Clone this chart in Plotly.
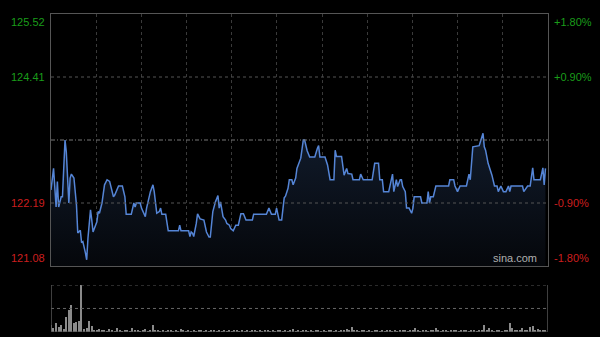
import plotly.graph_objects as go

# ---- data ----
minutes = [0, 2, 4, 5, 6, 8, 9, 11, 12, 14, 15, 16, 18, 19, 20, 21, 23, 24, 25, 27, 28, 29, 31, 32, 33,
           36, 37, 38, 40, 42, 44, 46, 49, 50, 53, 56, 58, 59, 63, 65, 66, 67, 70, 71, 74, 75, 77,
           78, 80, 81, 83, 85, 86, 87, 90, 92, 100, 101, 102, 108, 109, 110, 111, 112, 114, 115, 117,
           120, 122, 124, 125, 127, 129, 131, 132, 133, 135, 137, 138, 140, 141, 143, 145, 147, 149,
           151, 153, 156,
           158, 159, 169, 171, 173, 176, 177, 179, 181, 183, 184, 186, 187, 189, 190, 192, 193, 196,
           198, 199, 201, 203, 207, 209, 210, 211, 215, 217, 219, 222, 223, 224, 228, 230, 232, 233, 235,
           236, 237, 242, 243, 245, 252, 254, 257, 258, 260, 261, 265, 266, 268, 269, 271, 272, 274,
           275, 276, 278, 279, 281, 283, 284, 285, 290, 291, 295, 296, 297, 298, 300, 302, 312, 313,
           316, 317, 319, 321, 326, 328, 329, 331, 336, 337, 339, 340, 341, 343, 346, 348, 350, 351,
           353, 355, 357, 359, 360, 361, 370, 371, 374, 376, 378, 379, 384, 386, 387, 388]
prices = [122.42, 122.80, 122.12, 122.57, 122.12, 122.30, 122.30, 123.30, 123.09, 122.19, 122.63, 122.70,
          122.63, 122.33, 122.15, 121.66, 121.71, 121.49, 121.51, 121.31, 121.19, 121.57, 122.07, 121.89,
          121.68, 121.86, 122.04, 122.01, 122.19, 122.51, 122.60, 122.57, 122.30, 122.33, 122.49, 122.49,
          122.30, 121.99, 121.99, 122.19, 122.12, 122.19, 122.19, 122.10, 121.95, 122.10, 122.30,
          122.39, 122.51, 122.39, 122.01, 122.04, 122.10, 121.99, 121.99, 121.70, 121.70, 121.80, 121.70,
          121.70, 121.60, 121.68, 121.66, 121.60, 121.83, 122.00, 121.91, 121.89, 121.68, 121.59, 121.59,
          122.04, 122.21, 122.32, 122.10, 122.21, 121.95, 121.89, 121.83, 121.80, 121.74, 121.70, 121.80,
          121.80, 122.00, 122.00, 121.89, 121.89,
          121.89, 121.99, 121.99, 122.10, 121.99, 121.99, 122.10, 121.89, 121.89, 122.28, 122.31, 122.45,
          122.60, 122.60, 122.51, 122.63, 122.80, 122.98, 123.30, 123.30, 123.11, 123.00, 123.00, 123.15,
          123.20, 123.00, 123.00, 122.86, 122.60, 122.60, 123.12, 123.01, 123.01, 122.68, 122.80, 122.71,
          122.71,
          122.70, 122.60, 122.60, 122.70, 122.60, 122.60, 122.89, 122.89, 122.60, 122.60, 122.39, 122.39,
          122.48, 122.70, 122.39, 122.60, 122.48, 122.60, 122.60, 122.48, 122.39, 122.10, 122.10, 122.01,
          122.10, 122.30, 122.30, 122.19, 122.19, 122.39, 122.19, 122.30, 122.30, 122.49, 122.49, 122.60,
          122.60, 122.49, 122.39, 122.49, 122.49, 122.70, 122.60, 123.18, 123.20, 123.28, 123.42, 123.18,
          123.12, 122.89, 122.68, 122.49, 122.49, 122.39, 122.49, 122.39, 122.39, 122.49, 122.39, 122.49,
          122.49, 122.39, 122.49, 122.49, 122.81, 122.60, 122.60, 122.81, 122.51, 122.80]

vol_minutes = list(range(0, 390, 2))
volumes = [16, 8, 19, 11, 15, 6, 32, 46, 57, 19,
           21, 23, 100, 6, 9, 23, 12, 5, 4, 6,
           4, 5, 3, 6, 4, 3, 9, 4, 3, 5,
           4, 3, 9, 4, 5, 3, 4, 6, 3, 4,
           14, 5, 4, 3, 4, 3, 5, 4, 3, 4,
           3, 6, 4, 3, 5, 3, 4, 3, 4, 5,
           3, 4, 3, 5, 4, 3, 4, 3, 5, 3,
           4, 3, 4, 5, 3, 4, 3, 4, 3, 5,
           4, 3, 4, 3, 5, 4, 3, 4, 3, 4,
           5, 3, 4, 3, 4, 6, 3, 4, 3, 5,
           4, 3, 4, 3, 5, 4, 3, 4, 3, 4,
           5, 3, 4, 3, 4, 5, 6, 4, 11, 5,
           4, 3, 4, 5, 3, 4, 3, 4, 5, 3,
           4, 3, 4, 5, 3, 4, 3, 4, 5, 4,
           3, 4, 5, 9, 4, 3, 4, 5, 3, 4,
           5, 9, 4, 3, 4, 5, 3, 4, 5, 4,
           3, 4, 5, 4, 3, 5, 4, 3, 4, 5,
           16, 4, 9, 4, 3, 5, 4, 3, 4, 5,
           19, 9, 4, 5, 4, 9, 5, 4, 11, 13,
           5, 7, 4, 5, 4]

prev_close = 123.30
y_min, y_max = 121.08, 125.52
left_labels = ["125.52", "124.41", "122.19", "121.08"]
left_values = [125.52, 124.41, 122.19, 121.08]
right_labels = ["+1.80%", "+0.90%", "-0.90%", "-1.80%"]
x_end = 390
vgrid_count = 11

GREEN = "#1a9c1a"
RED = "#cc1f1f"

fig = go.Figure()
fig.add_trace(go.Scatter(
    x=minutes, y=prices, mode="lines",
    line=dict(color="#5585d6", width=1.5),
    fill="tozeroy",
    fillgradient=dict(type="vertical", start=y_min, stop=max(prices),
                      colorscale=[[0, "#05070b"], [1, "#111b2b"]]),
    xaxis="x", yaxis="y", hoverinfo="skip"))
fig.add_trace(go.Bar(
    x=vol_minutes, y=volumes, width=1.0,
    marker=dict(color="#8a8a8a", line=dict(width=0)),
    xaxis="x2", yaxis="y2", hoverinfo="skip"))

main_dom = [0.2075, 1.0]
vol_dom = [0.0, 0.148]

fig.update_layout(
    width=600, height=337,
    margin=dict(l=51, r=52, t=14, b=5),
    paper_bgcolor="black", plot_bgcolor="black",
    showlegend=False,
    font=dict(family="Liberation Sans, Arial", size=11),
    xaxis=dict(domain=[0, 1], range=[0, x_end], showticklabels=False,
               tickvals=[x_end * k / vgrid_count for k in range(1, vgrid_count)],
               ticks="", showgrid=True, gridcolor="#3a3a3a", griddash="dot", gridwidth=1,
               zeroline=False, showline=True, linecolor="#555", mirror=True, anchor="y"),
    yaxis=dict(domain=main_dom, range=[y_min, y_max], showticklabels=False,
               showgrid=False, zeroline=False, showline=True, linecolor="#555",
               mirror=True, anchor="x"),
    xaxis2=dict(domain=[0, 1], range=[0, x_end], showticklabels=False, showgrid=False,
                zeroline=False, showline=False, anchor="y2"),
    yaxis2=dict(domain=vol_dom, range=[0, 100], showticklabels=False, showgrid=False,
                zeroline=False, showline=False, anchor="x2"),
    bargap=0,
)

shapes = []
for v in [124.41, 122.19]:
    shapes.append(dict(type="line", xref="x", yref="y", x0=0, x1=x_end, y0=v, y1=v,
                       line=dict(color="#555", width=1, dash="dot")))
shapes.append(dict(type="line", xref="x", yref="y", x0=0, x1=x_end, y0=prev_close, y1=prev_close,
                   line=dict(color="#777", width=1, dash="4px,2px,1px,2px")))
# volume panel frame/grid
for v in [100, 50]:
    shapes.append(dict(type="line", xref="x2", yref="y2", x0=0, x1=x_end, y0=v, y1=v,
                       line=dict(color="#666", width=1, dash="dot")))
for xv in [0, x_end]:
    shapes.append(dict(type="line", xref="x2", yref="y2", x0=xv, x1=xv, y0=0, y1=100,
                       line=dict(color="#555", width=1.5)))
shapes.append(dict(type="line", xref="x2", yref="y2", x0=0, x1=x_end, y0=0, y1=0,
                   line=dict(color="#444", width=1)))
fig.update_layout(shapes=shapes)

anns = []
anchors = ["top", "middle", "middle", "bottom"]
for i, (lbl, val) in enumerate(zip(left_labels, left_values)):
    col = GREEN if val > prev_close else RED
    anns.append(dict(text=lbl, xref="paper", yref="y", x=-0.008, y=val, xanchor="right",
                     yanchor=anchors[i], showarrow=False, font=dict(color=col, size=11)))
    anns.append(dict(text=right_labels[i], xref="paper", yref="y", x=1.008, y=val, xanchor="left",
                     yanchor=anchors[i], showarrow=False, font=dict(color=col, size=11)))
anns.append(dict(text="sina.com", xref="paper", yref="y", x=0.982, y=y_min, xanchor="right",
                 yanchor="bottom", showarrow=False, font=dict(color="#b0b0b0", size=11)))
fig.update_layout(annotations=anns)

fig.write_html("out.html")
